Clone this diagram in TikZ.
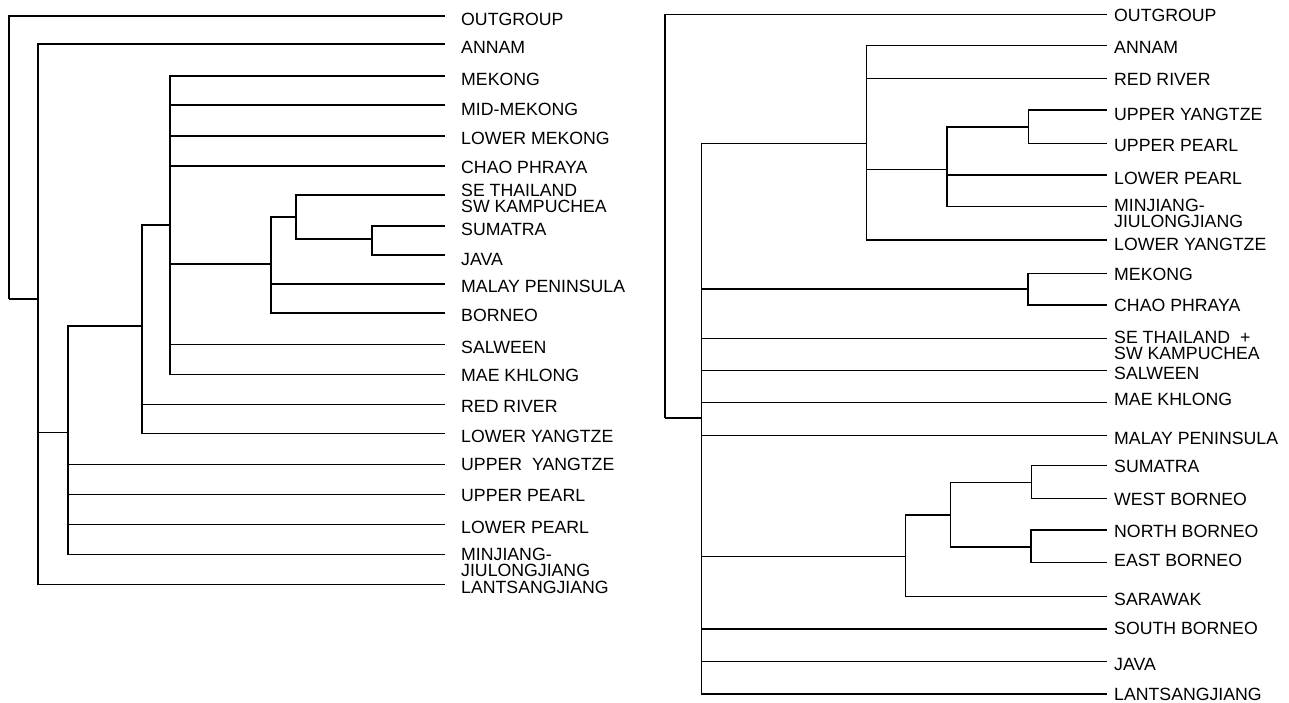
\documentclass[tikz,border=0pt]{standalone}
\usepackage{fontspec}
\setmainfont{Liberation Sans}
\newcommand{\twoline}[2]{\vtop{\baselineskip=16pt\hbox{#1}\hbox{#2}}}
\begin{document}
\begin{tikzpicture}[x=1pt,y=-1pt,
  br/.style={line width=1.4pt, black},
  lab/.style={anchor=base west, inner sep=0pt, font=\fontsize{17.7pt}{16pt}\selectfont}]
\useasboundingbox (0,0) rectangle (1289,702);

% ================= LEFT TREE =================
% internal nodes
\coordinate (LR) at (9,299);
\coordinate (LA) at (38,299);
\coordinate (LB) at (68,432.7);
\coordinate (LC) at (142,326);
\coordinate (LD) at (170,225);
\coordinate (LE) at (271,264);
\coordinate (LF) at (296,217);
\coordinate (LG) at (372,239);
% tips
\coordinate (tLout)  at (445,16);
\coordinate (tLann)  at (445,44);
\coordinate (tLmek)  at (445,76);
\coordinate (tLmid)  at (445,105);
\coordinate (tLlmk)  at (445,136);
\coordinate (tLcha)  at (445,166);
\coordinate (tLse)   at (445,195);
\coordinate (tLsum)  at (445,226);
\coordinate (tLjav)  at (445,255);
\coordinate (tLmal)  at (445,284);
\coordinate (tLbor)  at (445,313);
\coordinate (tLsal)  at (445,344.3);
\coordinate (tLmae)  at (445,374.3);
\coordinate (tLred)  at (445,404.3);
\coordinate (tLly)   at (445,433.3);
\coordinate (tLuy)   at (445,464.3);
\coordinate (tLup)   at (445,494.3);
\coordinate (tLlp)   at (445,524.3);
\coordinate (tLmin)  at (445,554.3);
\coordinate (tLlan)  at (445,584.3);

\draw[br] (LR) |- (tLout);
\draw[br] (LR) -- (LA);
\draw[br] (LA) |- (tLann);
\draw[br] (LA) |- (LB);
\draw[br] (LA) |- (tLlan);
\draw[br] (LB) |- (LC);
\draw[br] (LB) |- (tLuy);
\draw[br] (LB) |- (tLup);
\draw[br] (LB) |- (tLlp);
\draw[br] (LB) |- (tLmin);
\draw[br] (LC) |- (LD);
\draw[br] (LC) |- (tLred);
\draw[br] (LC) |- (tLly);
\draw[br] (LD) |- (tLmek);
\draw[br] (LD) |- (tLmid);
\draw[br] (LD) |- (tLlmk);
\draw[br] (LD) |- (tLcha);
\draw[br] (LD) |- (LE);
\draw[br] (LD) |- (tLsal);
\draw[br] (LD) |- (tLmae);
\draw[br] (LE) |- (LF);
\draw[br] (LE) |- (tLmal);
\draw[br] (LE) |- (tLbor);
\draw[br] (LF) |- (tLse);
\draw[br] (LF) |- (LG);
\draw[br] (LG) |- (tLsum);
\draw[br] (LG) |- (tLjav);

\node[lab] (lLout) at (461,25)    {OUTGROUP};
\node[lab] (lLann) at (461,53.3)  {ANNAM};
\node[lab] (lLmek) at (461,85)    {MEKONG};
\node[lab] (lLmid) at (461,115)   {MID-MEKONG};
\node[lab] (lLlmk) at (461,144)   {LOWER MEKONG};
\node[lab] (lLcha) at (461,173.3) {CHAO PHRAYA};
\node[lab] (lLse)  at (461,196.7) {\twoline{SE THAILAND}{SW KAMPUCHEA}};
\node[lab] (lLsum) at (461,235)   {SUMATRA};
\node[lab] (lLjav) at (461,265)   {JAVA};
\node[lab] (lLmal) at (461,292.3) {MALAY PENINSULA};
\node[lab] (lLbor) at (461,321.7) {BORNEO};
\node[lab] (lLsal) at (461,353.3) {SALWEEN};
\node[lab] (lLmae) at (461,381.7) {MAE KHLONG};
\node[lab] (lLred) at (461,412.3) {RED RIVER};
\node[lab] (lLly)  at (461,442.3) {LOWER YANGTZE};
\node[lab] (lLuy)  at (461,470.7) {UPPER\ \ YANGTZE};
\node[lab] (lLup)  at (461,501.7) {UPPER PEARL};
\node[lab] (lLlp)  at (461,533.3) {LOWER PEARL};
\node[lab] (lLmin) at (461,560)   {\twoline{MINJIANG-}{JIULONGJIANG}};
\node[lab] (lLlan) at (461,593.3) {LANTSANGJIANG};

% ================= RIGHT TREE =================
\coordinate (RR)  at (665,418);
\coordinate (RA)  at (701.7,418);
\coordinate (RB)  at (866.7,143.7);
\coordinate (RP)  at (947,169.3);
\coordinate (RU)  at (1028.3,127);
\coordinate (RM)  at (1028,289);
\coordinate (RBo) at (905.7,556.7);
\coordinate (RS)  at (950.7,515);
\coordinate (RSW) at (1031.3,482.7);
\coordinate (RNE) at (1031,547);

\coordinate (tRout) at (1107,14.3);
\coordinate (tRann) at (1107,45.7);
\coordinate (tRred) at (1107,78.3);
\coordinate (tRuy)  at (1107,110);
\coordinate (tRup)  at (1107,143.7);
\coordinate (tRlp)  at (1107,175);
\coordinate (tRmin) at (1107,206.7);
\coordinate (tRly)  at (1107,240);
\coordinate (tRmek) at (1107,273.3);
\coordinate (tRcha) at (1107,305);
\coordinate (tRse)  at (1107,338.3);
\coordinate (tRsal) at (1107,370.7);
\coordinate (tRmae) at (1107,402.7);
\coordinate (tRmal) at (1107,435.7);
\coordinate (tRsum) at (1107,465.7);
\coordinate (tRwb)  at (1107,498.7);
\coordinate (tRnb)  at (1107,530);
\coordinate (tReb)  at (1107,562.7);
\coordinate (tRsar) at (1107,596.7);
\coordinate (tRsb)  at (1107,629);
\coordinate (tRjav) at (1107,661.7);
\coordinate (tRlan) at (1107,694);

\draw[br] (RR) |- (tRout);
\draw[br] (RR) -- (RA);
\draw[br] (RA) |- (RB);
\draw[br] (RA) |- (RM);
\draw[br] (RA) |- (tRse);
\draw[br] (RA) |- (tRsal);
\draw[br] (RA) |- (tRmae);
\draw[br] (RA) |- (tRmal);
\draw[br] (RA) |- (RBo);
\draw[br] (RA) |- (tRsb);
\draw[br] (RA) |- (tRjav);
\draw[br] (RA) |- (tRlan);
\draw[br] (RB) |- (tRann);
\draw[br] (RB) |- (tRred);
\draw[br] (RB) |- (RP);
\draw[br] (RB) |- (tRly);
\draw[br] (RP) |- (RU);
\draw[br] (RP) |- (tRlp);
\draw[br] (RP) |- (tRmin);
\draw[br] (RU) |- (tRuy);
\draw[br] (RU) |- (tRup);
\draw[br] (RM) |- (tRmek);
\draw[br] (RM) |- (tRcha);
\draw[br] (RBo) |- (RS);
\draw[br] (RBo) |- (tRsar);
\draw[br] (RS) |- (RSW);
\draw[br] (RS) |- (RNE);
\draw[br] (RSW) |- (tRsum);
\draw[br] (RSW) |- (tRwb);
\draw[br] (RNE) |- (tRnb);
\draw[br] (RNE) |- (tReb);

\node[lab] (lRout) at (1114,21.7)  {OUTGROUP};
\node[lab] (lRann) at (1114,53.3)  {ANNAM};
\node[lab] (lRred) at (1114,85)    {RED RIVER};
\node[lab] (lRuy)  at (1114,120.7) {UPPER YANGTZE};
\node[lab] (lRup)  at (1114,151.7) {UPPER PEARL};
\node[lab] (lRlp)  at (1114,184)   {LOWER PEARL};
\node[lab] (lRmin) at (1114,211.7) {\twoline{MINJIANG-}{JIULONGJIANG}};
\node[lab] (lRly)  at (1114,250.7) {LOWER YANGTZE};
\node[lab] (lRmek) at (1114,280.7) {MEKONG};
\node[lab] (lRcha) at (1114,311.7) {CHAO PHRAYA};
\node[lab] (lRse)  at (1114,343.3) {\twoline{SE THAILAND\ \ +}{SW KAMPUCHEA}};
\node[lab] (lRsal) at (1114,379.3) {SALWEEN};
\node[lab] (lRmae) at (1114,405)   {MAE KHLONG};
\node[lab] (lRmal) at (1114,444)   {MALAY PENINSULA};
\node[lab] (lRsum) at (1114,472.7) {SUMATRA};
\node[lab] (lRwb)  at (1114,505)   {WEST BORNEO};
\node[lab] (lRnb)  at (1114,537.7) {NORTH BORNEO};
\node[lab] (lReb)  at (1114,566.7) {EAST BORNEO};
\node[lab] (lRsar) at (1114,605.7) {SARAWAK};
\node[lab] (lRsb)  at (1114,634)   {SOUTH BORNEO};
\node[lab] (lRjav) at (1114,670)   {JAVA};
\node[lab] (lRlan) at (1114,700)   {LANTSANGJIANG};
\end{tikzpicture}
\end{document}
